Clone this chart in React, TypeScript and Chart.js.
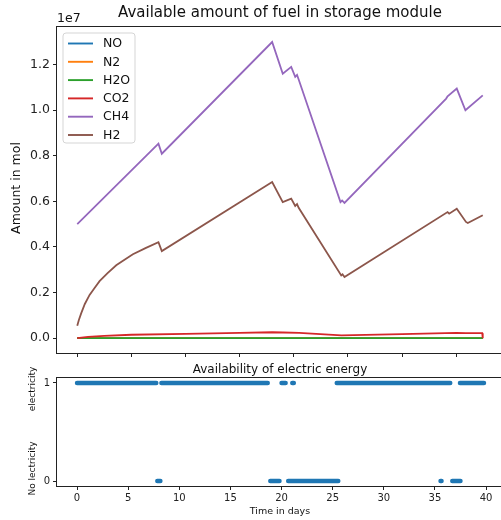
import React, { useEffect, useRef } from "react";
import { Chart, registerables } from "chart.js";

Chart.register(...registerables);

const FONT = "'DejaVu Sans', Verdana, sans-serif";

// ---------- top plot: available amount of fuel (mol) ----------
const seriesNames = ["NO", "N2", "H2O", "CO2", "CH4", "H2"];
const seriesColors = ["#1f77b4", "#ff7f0e", "#2ca02c", "#d62728", "#9467bd", "#8c564b"];

const noTime = [0, 37.45];
const noValues = [0, 0];

const n2Time = [0, 37.45];
const n2Values = [0, 0];

const h2oTime = [0, 37.45];
const h2oValues = [0, 0];

const co2Time = [0, 1, 2.5, 5, 10, 15, 18, 19, 20.5, 24.4, 30, 35, 35.9, 37.4, 37.45];
const co2Values = [0, 0.06e6, 0.1e6, 0.15e6, 0.19e6, 0.23e6, 0.26e6, 0.25e6, 0.23e6, 0.12e6, 0.18e6, 0.23e6, 0.22e6, 0.22e6, 0];

const ch4Time = [0, 7.5, 7.81, 18.0, 18.98, 19.76, 20.13, 20.3, 20.45, 24.31, 24.46, 24.68, 34.07, 34.2, 35.05, 35.85, 37.45];
const ch4Values = [5.0e6, 8.53e6, 8.09e6, 12.99e6, 11.6e6, 11.9e6, 11.46e6, 11.55e6, 11.35e6, 5.97e6, 6.04e6, 5.93e6, 10.51e6, 10.61e6, 10.95e6, 10.0e6, 10.65e6];

const h2Time = [0, 0.15, 0.37, 0.7, 1.14, 1.6, 2.06, 2.8, 3.6, 4.4, 5.14, 6.3, 7.5, 7.81, 18.0, 18.98, 19.76, 20.13, 20.3, 20.45, 24.38, 24.5, 24.68, 34.2, 34.35, 35.05, 35.9, 36.07, 37.45];
const h2Values = [0.55e6, 0.8e6, 1.1e6, 1.5e6, 1.9e6, 2.2e6, 2.5e6, 2.85e6, 3.2e6, 3.45e6, 3.68e6, 3.95e6, 4.21e6, 3.82e6, 6.85e6, 5.97e6, 6.12e6, 5.8e6, 5.88e6, 5.72e6, 2.75e6, 2.8e6, 2.68e6, 5.53e6, 5.46e6, 5.68e6, 5.1e6, 5.05e6, 5.39e6];

const seriesTimes = [noTime, n2Time, h2oTime, co2Time, ch4Time, h2Time];
const seriesValues = [noValues, n2Values, h2oValues, co2Values, ch4Values, h2Values];

const topXTicks = [0, 5, 10, 15, 20, 25, 30, 35];
const topYTicks = [0, 2e6, 4e6, 6e6, 8e6, 10e6, 12e6];

// ---------- bottom plot: availability of electric energy ----------
const onStart = [0, 8.25, 20.0, 21.05, 25.4, 37.45];
const onEnd = [7.75, 18.65, 20.4, 21.2, 36.5, 39.8];
const offStart = [7.85, 18.9, 20.65, 35.55, 36.7];
const offEnd = [8.15, 19.8, 25.55, 35.65, 37.5];

const bottomXTicks = [0, 5, 10, 15, 20, 25, 30, 35, 40];
const bottomYTicks = [0, 1];

const fixScale = (w?: number, h?: number) => (s: any) => {
  if (w !== undefined) s.width = w;
  if (h !== undefined) s.height = h;
  s.paddingLeft = 0;
  s.paddingRight = 0;
  s.paddingTop = 0;
  s.paddingBottom = 0;
};

const setTicks = (vals: number[]) => (s: any) => {
  s.ticks = vals.map((v) => ({ value: v }));
};

const drawFrame = (chart: any) => {
  const { ctx, chartArea: a } = chart;
  ctx.save();
  ctx.strokeStyle = "#222";
  ctx.lineWidth = 1;
  ctx.strokeRect(a.left - 0.5, a.top - 0.5, a.right - a.left + 1, a.bottom - a.top + 1);
  ctx.restore();
};

const topDecor = {
  id: "topDecor",
  afterDraw(chart: any) {
    const { ctx, chartArea: a } = chart;
    drawFrame(chart);
    ctx.save();
    ctx.fillStyle = "#111";
    ctx.textBaseline = "middle";
    ctx.textAlign = "center";
    ctx.font = `15px ${FONT}`;
    ctx.fillText("Available amount of fuel in storage module", (a.left + a.right) / 2, 13.5);
    ctx.textAlign = "left";
    ctx.font = `12.5px ${FONT}`;
    ctx.fillText("1e7", a.left, 18.5);
    ctx.save();
    ctx.translate(16.5, 188);
    ctx.rotate(-Math.PI / 2);
    ctx.textAlign = "center";
    ctx.fillText("Amount in mol", 0, 0);
    ctx.restore();

    // legend
    const lx = 63, ly = 33, lw = 72, lh = 110, r = 3;
    ctx.beginPath();
    ctx.moveTo(lx + r, ly);
    ctx.arcTo(lx + lw, ly, lx + lw, ly + lh, r);
    ctx.arcTo(lx + lw, ly + lh, lx, ly + lh, r);
    ctx.arcTo(lx, ly + lh, lx, ly, r);
    ctx.arcTo(lx, ly, lx + lw, ly, r);
    ctx.closePath();
    ctx.fillStyle = "rgba(255,255,255,0.85)";
    ctx.fill();
    ctx.strokeStyle = "#d5d5d5";
    ctx.lineWidth = 1;
    ctx.stroke();
    chart.data.datasets.forEach((ds: any, i: number) => {
      const y = 43.5 + i * 18.3;
      ctx.strokeStyle = ds.borderColor;
      ctx.lineWidth = 1.9;
      ctx.beginPath();
      ctx.moveTo(68, y);
      ctx.lineTo(93, y);
      ctx.stroke();
      ctx.fillStyle = "#111";
      ctx.font = `12.5px ${FONT}`;
      ctx.textAlign = "left";
      ctx.fillText(ds.label, 103, y + 0.5);
    });
    ctx.restore();
  },
};

const bottomDecor = {
  id: "bottomDecor",
  afterDraw(chart: any) {
    const { ctx, chartArea: a } = chart;
    drawFrame(chart);
    ctx.save();
    ctx.fillStyle = "#111";
    ctx.textBaseline = "middle";
    ctx.textAlign = "center";
    ctx.font = `12px ${FONT}`;
    ctx.fillText("Availability of electric energy", (a.left + a.right) / 2, 9.5);
    ctx.font = `9.5px ${FONT}`;
    ctx.fillText("Time in days", (a.left + a.right) / 2, 151.5);
    ctx.font = `9px ${FONT}`;
    ctx.save();
    ctx.translate(33, 29);
    ctx.rotate(-Math.PI / 2);
    ctx.fillText("electricity", 0, 0);
    ctx.restore();
    ctx.save();
    ctx.translate(33, 108.5);
    ctx.rotate(-Math.PI / 2);
    ctx.fillText("No lectricity", 0, 0);
    ctx.restore();
    ctx.restore();
  },
};

const gridOpts = {
  drawOnChartArea: false,
  drawTicks: true,
  tickLength: 4,
  tickColor: "#222",
  tickWidth: 1,
};

export default function App() {
  const topRef = useRef<HTMLCanvasElement | null>(null);
  const botRef = useRef<HTMLCanvasElement | null>(null);

  useEffect(() => {
    Chart.defaults.font.family = FONT;
    const topChart = new Chart(topRef.current as HTMLCanvasElement, {
      type: "line",
      data: {
        datasets: seriesNames.map((name, i) => ({
          label: name,
          data: seriesTimes[i].map((t, j) => ({ x: t, y: seriesValues[i][j] })),
          borderColor: seriesColors[i],
          backgroundColor: seriesColors[i],
          borderWidth: 1.8,
          pointRadius: 0,
          fill: false,
          tension: 0,
          order: seriesNames.length - i,
        })),
      },
      options: {
        responsive: false,
        animation: false,
        events: [],
        layout: { padding: { left: 0, top: 27, right: 17, bottom: 0 } },
        plugins: { legend: { display: false }, tooltip: { enabled: false } },
        scales: {
          x: {
            type: "linear",
            min: -1.87,
            max: 39.32,
            afterBuildTicks: setTicks(topXTicks),
            afterFit: fixScale(undefined, 7),
            ticks: { display: false },
            grid: gridOpts,
            border: { display: false },
          },
          y: {
            type: "linear",
            min: -0.65e6,
            max: 13.65e6,
            afterBuildTicks: setTicks(topYTicks),
            afterFit: fixScale(57, undefined),
            ticks: {
              callback: (v: any) => (Number(v) / 1e7).toFixed(1),
              font: { size: 12.5, family: FONT },
              color: "#222",
              padding: 3,
            },
            grid: gridOpts,
            border: { display: false },
          },
        },
      },
      plugins: [topDecor],
    } as any);

    const intervals = (starts: number[], ends: number[], y: number) =>
      starts.flatMap((s, k) => [
        { x: s, y },
        { x: ends[k], y },
        { x: ends[k], y: null },
      ]);

    const botChart = new Chart(botRef.current as HTMLCanvasElement, {
      type: "line",
      data: {
        datasets: [
          {
            label: "electricity",
            data: intervals(onStart, onEnd, 1),
            borderColor: "#1f77b4",
            borderWidth: 4.5,
            borderCapStyle: "round",
            pointRadius: 0,
            spanGaps: false,
            fill: false,
          },
          {
            label: "no electricity",
            data: intervals(offStart, offEnd, 0),
            borderColor: "#1f77b4",
            borderWidth: 4.5,
            borderCapStyle: "round",
            pointRadius: 0,
            spanGaps: false,
            fill: false,
          },
        ],
      },
      options: {
        responsive: false,
        animation: false,
        events: [],
        layout: { padding: { left: 0, top: 18, right: 17, bottom: 0 } },
        plugins: { legend: { display: false }, tooltip: { enabled: false } },
        scales: {
          x: {
            type: "linear",
            min: -1.96,
            max: 41.66,
            afterBuildTicks: setTicks(bottomXTicks),
            afterFit: fixScale(undefined, 34),
            ticks: { font: { size: 10, family: FONT }, color: "#222", padding: 2, maxRotation: 0 },
            grid: gridOpts,
            border: { display: false },
          },
          y: {
            type: "linear",
            min: -0.05,
            max: 1.05,
            afterBuildTicks: setTicks(bottomYTicks),
            afterFit: fixScale(57, undefined),
            ticks: { font: { size: 10, family: FONT }, color: "#222", padding: 3 },
            grid: gridOpts,
            border: { display: false },
          },
        },
      },
      plugins: [bottomDecor],
    } as any);

    return () => {
      topChart.destroy();
      botChart.destroy();
    };
  }, []);

  return (
    <div
      style={{
        position: "fixed",
        left: 0,
        top: 0,
        width: 501,
        height: 520,
        overflow: "hidden",
        background: "#fff",
      }}
    >
      <canvas
        ref={topRef}
        width={520}
        height={360}
        style={{ position: "absolute", left: 0, top: 0, width: 520, height: 360 }}
      />
      <canvas
        ref={botRef}
        width={520}
        height={160}
        style={{ position: "absolute", left: 0, top: 360, width: 520, height: 160 }}
      />
    </div>
  );
}
